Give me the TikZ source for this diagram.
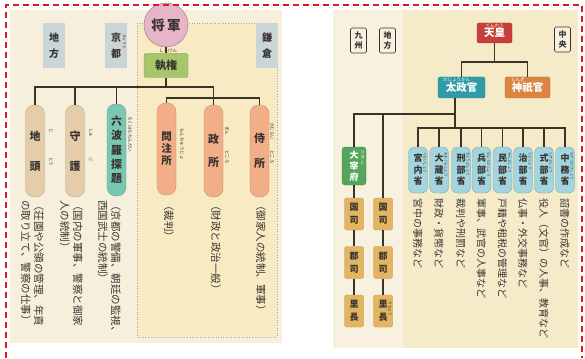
\documentclass[tikz,border=0pt]{standalone}
\usepackage{fontspec}
\usetikzlibrary{calc}
\newfontfamily\jp{Noto Sans CJK JP}
\definecolor{lbg}{HTML}{F5EFDC}
\definecolor{kbg}{HTML}{F8EBC3}
\definecolor{labbg}{HTML}{C9D5D6}
\definecolor{tanc}{HTML}{E5CDAA}
\definecolor{tealc}{HTML}{79C7B3}
\definecolor{salmonc}{HTML}{F2AE86}
\definecolor{pinkc}{HTML}{E6B5C8}
\definecolor{greenc}{HTML}{A7C66B}
\definecolor{linec}{HTML}{3B3326}
\definecolor{txt}{HTML}{3A3430}
\definecolor{redb}{HTML}{E2161B}
\definecolor{rbga}{HTML}{F8F1DF}
\definecolor{rbgb}{HTML}{F6EBC9}
\definecolor{tennoc}{HTML}{C73E3A}
\definecolor{dajoc}{HTML}{2F9DA9}
\definecolor{jingic}{HTML}{DC8443}
\definecolor{minc}{HTML}{A3D5DE}
\definecolor{dazaic}{HTML}{55A65C}
\definecolor{kokuc}{HTML}{E3B561}
\begin{document}
\begin{tikzpicture}[x=1pt,y=-1pt,
  conn/.style={draw=linec, line width=1.4pt},
  lab/.style={fill=labbg, minimum width=22pt, minimum height=45pt, inner sep=0pt, align=center, text=txt, font=\jp\bfseries\fontsize{10}{16}\selectfont},
  rlab/.style={draw=txt, fill=rbga, line width=0.6pt, rounded corners=1.5pt, minimum width=16pt, minimum height=25pt, inner sep=0pt, align=center, text=txt, font=\jp\bfseries\fontsize{8}{10}\selectfont},
  pill/.style={rounded corners=8.5pt, minimum width=19pt, minimum height=92pt, inner sep=0pt, align=center, text=txt, font=\jp\bfseries\fontsize{11}{13}\selectfont, draw=#1!80!black, fill=#1, line width=0.3pt},
  desc/.style={rotate=-90, anchor=north west, inner sep=0pt, align=left, text=txt, font=\jp\fontsize{10.5}{13}\selectfont},
  rdesc/.style={rotate=-90, anchor=west, inner sep=0pt, text=txt, font=\jp\fontsize{10}{12}\selectfont},
  ruby/.style={rotate=-90, anchor=west, inner sep=0pt, text=txt, font=\jp\fontsize{4.5}{5}\selectfont},
  wruby/.style={inner sep=0pt, text=white, font=\jp\fontsize{4.5}{5}\selectfont},
  topbox/.style={rounded corners=2pt, fill=#1, draw=#1!80!black, line width=0.3pt, inner sep=0pt, text=white, font=\jp\bfseries\fontsize{10.5}{12}\selectfont},
  minpill/.style={rounded corners=6pt, fill=minc, draw=minc!75!black, line width=0.3pt, minimum width=19pt, minimum height=46pt, inner sep=0pt, align=center, text=txt, font=\jp\bfseries\fontsize{9}{11.5}\selectfont},
  kbox/.style={rounded corners=1.5pt, fill=kokuc, draw=kokuc!80!black, line width=0.3pt, minimum width=19pt, minimum height=32pt, inner sep=0pt, align=center, text=txt, font=\jp\bfseries\fontsize{9}{13}\selectfont}
]
\useasboundingbox (0,0) rectangle (585,358);
\fill[white] (0,0) rectangle (585,358);
% ---------- left panel ----------
\fill[lbg] (10,10) rectangle (282,343);
\draw[fill=kbg, draw=gray!70, line width=0.6pt, dotted] (137,23) rectangle (277,337);
\node[lab] (chiho) at (54,45.5) {地\\方};
\node[lab] (kyoto) at (116,45.5) {京\\都};
\node[lab] (kama) at (267,45.5) {鎌\\倉};
\node[ruby, font=\jp\fontsize{3.8}{4}\selectfont] (rkyoto) at (124.5,34) {きょうと};

\node[circle, fill=pinkc, draw=pinkc!70!black, line width=0.5pt, minimum size=44pt, inner sep=0pt, text=txt, font=\jp\bfseries\fontsize{13.5}{14}\selectfont] (shogun) at (166,25) {将\,軍};
\node[rounded corners=2pt, fill=greenc, draw=greenc!75!black, line width=0.3pt, minimum width=44pt, minimum height=24pt, inner sep=0pt, text=txt, font=\jp\bfseries\fontsize{11}{12}\selectfont] (shikken) at (166,65.5) {執権};
\node[inner sep=0pt, text=txt, font=\jp\fontsize{4.5}{5}\selectfont] (rshikken) at (168,50.5) {しっけん};

\node[pill=tanc] (jito) at (35,151) {地\\[17pt]頭};
\node[pill=tanc] (shugo) at (75,151) {守\\[17pt]護};
\node[pill=tealc, font=\jp\bfseries\fontsize{11}{14.2}\selectfont] (rokuhara) at (116.5,150) {六\\波\\羅\\探\\題};
\node[pill=salmonc, font=\jp\bfseries\fontsize{10.5}{12}\selectfont] (monchu) at (166.5,149) {問\\注\\所};
\node[pill=salmonc] (mando) at (213.5,151) {政\\[10pt]所};
\node[pill=salmonc] (samurai) at (259.5,151) {侍\\[12pt]所};

\node[ruby] (r1a) at (51,128) {じ};
\node[ruby] (r1b) at (51,157) {とう};
\node[ruby] (r2a) at (91,128) {しゅ};
\node[ruby] (r2b) at (91,157) {ご};
\node[ruby] (r3) at (130,116) {ろくはらたんだい};
\node[ruby] (r4) at (182,128) {もんちゅうじょ};
\node[ruby] (r5a) at (227,126) {まん};
\node[ruby] (r5b) at (227,150) {どころ};
\node[ruby] (r6a) at (272,122) {さむらい};
\node[ruby] (r6b) at (272,150) {どころ};

\coordinate (b1) at (213.5,87);
\coordinate (b2) at (213.5,98);
\draw[conn] (shogun.south) -- (shikken.north);
\draw[conn] (shikken.south) -- (shikken.south |- b1);
\draw[conn] (jito.north) |- (b1) -- (b2);
\draw[conn] (shugo.north) -- (shugo.north |- b1);
\draw[conn] (rokuhara.north) -- (rokuhara.north |- b1);
\draw[conn] (monchu.north) |- (b2) -| (samurai.north);
\draw[conn] (b2) -- (mando.north);

\node[desc] (d1) at (44,200) {（荘園や公領の管理、年貢\\の取り立て、警察の仕事）};
\node[desc] (d2) at (83,200) {（国内の軍事、警察と御家\\人の統制）};
\node[desc] (d3) at (121,200) {（京都の警備、朝廷の監視、\\西国武士の統制）};
\node[desc] (d4) at (174,200) {（裁判）};
\node[desc] (d5) at (221,200) {（財政と政治一般）};
\node[desc] (d6) at (266,200) {（御家人の統制、軍事）};

% ---------- right panel ----------
\fill[rbga] (333,10) rectangle (578,348);
\fill[rbgb] (403,10) rectangle (578,348);
\node[rlab] (kyushu) at (358.5,40.5) {九\\州};
\node[rlab] (chiho2) at (387.5,40.5) {地\\方};
\node[rlab] (chuo) at (562.5,39.5) {中\\央};

\node[topbox=tennoc, minimum width=35pt, minimum height=20pt] (tenno) at (494.5,33) {\raisebox{-1.5pt}{天皇}};
\node[wruby] (rtenno) at (494.5,26) {てんのう};
\node[topbox=dajoc, minimum width=47pt, minimum height=21pt] (dajo) at (461.5,87.5) {\raisebox{-1.5pt}{太政官}};
\node[wruby, anchor=west] (rdajo) at (443,80) {だじょうかん};
\node[topbox=jingic, minimum width=45pt, minimum height=21pt] (jingi) at (527.5,87.5) {\raisebox{-1.5pt}{神祇官}};
\node[wruby, anchor=west] (rjingi) at (511,80) {じんぎ};

\coordinate (jt) at (494.5,62);
\coordinate (jd) at (455,128);
\coordinate (jr) at (455,114);
\draw[conn] (tenno.south) -- (jt);
\draw[conn] (dajo.north) |- (jt) -| (jingi.north);
\draw[conn] (dajo.south -| jd) -- (jd);

\node[minpill] (m1) at (418,170) {宮\\内\\省};
\node[minpill] (m2) at (439,170) {大\\蔵\\省};
\node[minpill] (m3) at (461,170) {刑\\部\\省};
\node[minpill] (m4) at (481.5,170) {兵\\部\\省};
\node[minpill] (m5) at (502.5,170) {民\\部\\省};
\node[minpill] (m6) at (523,170) {治\\部\\省};
\node[minpill] (m7) at (544,170) {式\\部\\省};
\node[minpill] (m8) at (565,170) {中\\務\\省};
\foreach \m/\r in {m1/くないしょう, m2/おおくらしょう, m3/ぎょうぶしょう, m4/ひょうぶしょう, m5/みんぶしょう, m6/じぶしょう, m7/しきぶしょう, m8/なかつかさしょう}{
  \node[ruby, font=\jp\fontsize{3.5}{4}\selectfont] (r\m) at ($(\m.north)+(7,5)$) {\r};
}
\draw[conn] (m1.north) |- (m8.north |- jd) -- (m8.north);
\foreach \m in {m2,m3,m4,m5,m6,m7}{
  \draw[conn] (\m.north) -- (\m.north |- jd);
}
\node[rdesc] (e1) at (418,198) {宮中の事務など};
\node[rdesc] (e2) at (439,198) {財政・貨幣など};
\node[rdesc] (e3) at (461,198) {裁判や刑罰など};
\node[rdesc] (e4) at (481.5,198) {軍事、武官の人事など};
\node[rdesc] (e5) at (502.5,198) {戸籍や租税の管理など};
\node[rdesc] (e6) at (523,198) {仏事・外交事務など};
\node[rdesc] (e7) at (544,198) {役人（文官）の人事、教育など};
\node[rdesc] (e8) at (565,198) {詔書の作成など};

\node[rounded corners=3pt, fill=dazaic, draw=dazaic!80!black, line width=0.3pt, minimum width=24pt, minimum height=38pt, inner sep=0pt, align=center, text=white, font=\jp\bfseries\fontsize{9}{11}\selectfont] (dazai) at (354,166) {大\\宰\\府};
\node[ruby, text=white, font=\jp\fontsize{3.8}{4}\selectfont] (rdazai) at (363,150) {だざいふ};
\node[kbox] (koku1) at (354,214) {国\\司};
\node[kbox] (koku2) at (383,214) {国\\司};
\node[kbox] (gun1) at (354,262.5) {郡\\司};
\node[kbox] (gun2) at (383,262.5) {郡\\司};
\node[kbox] (ri1) at (354,311) {里\\長};
\node[kbox] (ri2) at (383,311) {里\\長};
\node[ruby, font=\jp\fontsize{3.8}{4}\selectfont] (rri) at (390,301) {りちょう};

\draw[conn] (dazai.north) |- (jr);
\draw[conn] (koku2.north) -- (koku2.north |- jr);
\draw[conn] (dazai.south) -- (koku1.north);
\draw[conn] (koku1.south) -- (gun1.north);
\draw[conn] (gun1.south) -- (ri1.north);
\draw[conn] (koku2.south) -- (gun2.north);
\draw[conn] (gun2.south) -- (ri2.north);

% ---------- red dashed frame ----------
\draw[redb, line width=1.6pt, dash pattern=on 6pt off 4pt] (6,358) -- (6,5) -- (582,5) -- (582,358);
\end{tikzpicture}
\end{document}
